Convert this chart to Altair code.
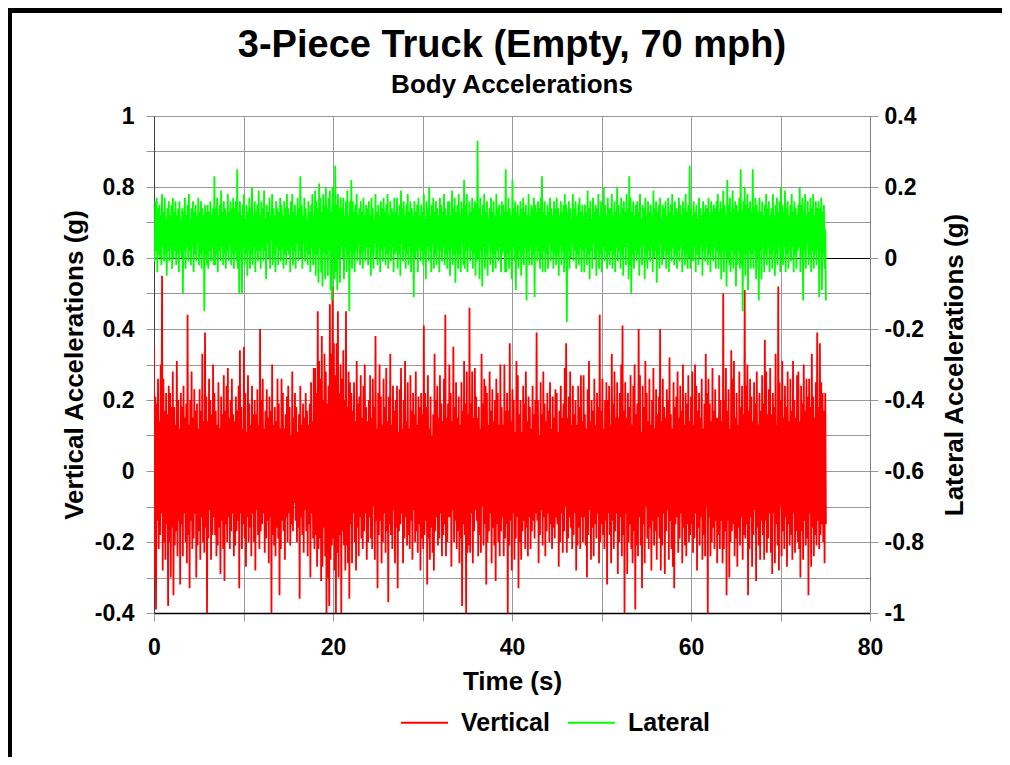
import altair as alt
import pandas as pd

# Sampling interval of the recorded signals (s)
DT = 0.075

# Vertical body acceleration, in hundredths of g (left axis); 3 s per line
vertical = [
    35, -30, 21, -39, 19, -14, 26, -22, 14, -18, 30, -12, 55, -28, 26, -20, 17, -25, 22, -15, 16, -38, 24, -20, 22, -30, 18, -16, 28, -35, 18, -21, 13, -17, 31, -24, 20, -14, 12, -32,
    22, -15, 18, -24, 24, -12, 15, -20, 19, -26, 44, -18, 13, -33, 20, -14, 28, -22, 15, -19, 23, -12, 17, -30, 19, -21, 12, -17, 23, -25, 17, -13, 33, -20, 14, -23, 39, -16, 21, -40,
    14, -19, 26, -11, 20, -25, 16, -18, 30, -13, 22, -18, 17, -24, 13, -21, 25, -16, 12, -29, 21, -14, 16, -22, 27, -31, 17, -15, 24, -20, 29, -13, 15, -22, 20, -17, 26, -12, 16, -24,
    14, -21, 21, -17, 17, -14, 24, -33, 34, -12, 18, -22, 12, -15, 35, -19, 22, -27, 11, -13, 27, -20, 19, -16, 13, -24, 24, -12, 16, -20, 20, -28, 16, -11, 23, -18, 13, -22, 40, -17,
    20, -15, 26, -12, 12, -23, 17, -19, 23, -14, 15, -26, 21, -13, 17, -40, 30, -18, 13, -21, 18, -24, 14, -16, 26, -19, 19, -35, 12, -22, 26, -14, 22, -17, 12, -25, 16, -13, 21, -20,
    24, -12, 18, -21, 10, -15, 28, -17, 15, -9, 22, -14, 18, -20, 11, -16, 16, -36, 24, -13, 13, -18, 19, -23, 15, -11, 22, -17, 17, -24, 13, -15, 19, -30, 25, -12, 14, -19, 29, -22,
    29, -18, 22, -27, 45, -22, 31, -19, 26, -31, 38, -27, 20, -16, 33, -24, 28, -40, 19, -30, 24, -38, 47, -25, 33, -21, 52, -19, 36, -28, 27, -40, 36, -23, 45, -30, 22, -18, 30, -40,
    26, -17, 34, -21, 20, -28, 45, -21, 18, -26, 28, -36, 25, -15, 22, -26, 17, -12, 25, -20, 14, -28, 31, -16, 19, -24, 21, -13, 27, -19, 15, -22, 24, -17, 30, -12, 18, -25, 14, -20,
    20, -13, 27, -19, 15, -22, 26, -10, 18, -25, 38, -14, 12, -33, 22, -18, 30, -14, 21, -26, 13, -20, 26, -12, 18, -23, 29, -17, 14, -37, 21, -15, 33, -18, 13, -22, 24, -11, 17, -26,
    20, -16, 24, -33, 11, -17, 23, -15, 29, -12, 12, -26, 20, -19, 31, -13, 14, -21, 25, -18, 12, -22, 27, -14, 17, -25, 22, -11, 16, -20, 28, -17, 13, -23, 21, -15, 18, -28, 22, -19,
    16, -22, 41, -18, 22, -14, 18, -32, 27, -19, 12, -25, 21, -16, 10, -23, 16, -28, 33, -17, 20, -13, 24, -21, 15, -19, 27, -12, 19, -24, 14, -18, 26, -15, 44, -24, 15, -20, 19, -13,
    30, -13, 22, -27, 14, -11, 35, -20, 18, -14, 25, -22, 15, -17, 21, -26, 13, -19, 25, -38, 17, -15, 31, -18, 19, -40, 28, -23, 16, -21, 46, -23, 19, -12, 28, -26, 15, -17, 29, -11,
    21, -14, 15, -24, 18, -18, 12, -23, 33, -10, 19, -21, 26, -15, 24, -32, 22, -20, 13, -17, 28, -12, 17, -26, 23, -16, 14, -21, 20, -31, 26, -15, 22, -20, 13, -24, 30, -17, 18, -13,
    13, -24, 30, -19, 17, -15, 22, -40, 17, -21, 36, -14, 14, -28, 23, -12, 20, -25, 11, -19, 31, -13, 27, -33, 16, -20, 20, -25, 11, -17, 24, -14, 19, -22, 28, -16, 14, -24, 21, -13,
    18, -22, 12, -17, 24, -14, 16, -19, 20, -12, 39, -14, 20, -26, 10, -18, 25, -11, 16, -21, 28, -13, 19, -24, 14, -17, 22, -12, 17, -20, 25, -15, 12, -22, 21, -16, 15, -19, 23, -13,
    22, -15, 11, -27, 17, -20, 24, -12, 15, -23, 19, -17, 29, -10, 36, -23, 15, -19, 21, -13, 28, -16, 13, -22, 24, -18, 16, -12, 20, -28, 13, -21, 24, -16, 18, -22, 27, -13, 14, -20,
    27, -13, 16, -21, 12, -30, 23, -18, 31, -11, 14, -25, 20, -16, 17, -24, 26, -15, 13, -19, 22, -12, 18, -26, 44, -20, 17, -15, 26, -18, 12, -22, 20, -14, 25, -32, 20, -12, 24, -18,
    13, -26, 33, -14, 19, -22, 28, -17, 15, -12, 25, -29, 15, -20, 22, -13, 30, -24, 41, -18, 17, -40, 25, -12, 15, -29, 22, -20, 18, -15, 27, -22, 13, -26, 24, -17, 30, -39, 16, -21,
    19, -24, 40, -13, 27, -21, 11, -33, 24, -15, 18, -26, 31, -10, 22, -19, 14, -22, 26, -16, 13, -28, 20, -14, 29, -21, 12, -17, 23, -25, 16, -13, 21, -19, 40, -28, 14, -21, 26, -12,
    18, -29, 15, -17, 23, -11, 20, -25, 32, -14, 16, -22, 12, -27, 25, -33, 18, -15, 21, -13, 28, -23, 15, -19, 24, -12, 17, -26, 30, -16, 13, -21, 22, -24, 19, -15, 27, -20, 14, -18,
    21, -15, 28, -23, 13, -19, 30, -12, 24, -28, 17, -16, 22, -21, 15, -13, 26, -25, 12, -18, 19, -24, 33, -10, 22, -40, 26, -13, 19, -24, 14, -20, 29, -16, 17, -22, 23, -14, 15, -26,
    15, -18, 27, -22, 20, -14, 14, -26, 50, -22, 20, -17, 29, -35, 17, -14, 23, -30, 12, -20, 34, -17, 26, -15, 31, -24, 15, -19, 22, -27, 13, -16, 28, -21, 18, -13, 24, -25, 16, -18,
    51, -19, 24, -15, 30, -35, 17, -22, 26, -13, 21, -27, 14, -18, 25, -11, 19, -31, 28, -16, 13, -21, 22, -25, 17, -14, 27, -18, 19, -25, 37, -14, 28, -23, 16, -19, 23, -12, 29, -23,
    16, -29, 22, -12, 18, -26, 33, -15, 13, -21, 52, -28, 25, -10, 20, -24, 31, -17, 15, -22, 24, -13, 18, -27, 28, -15, 14, -21, 26, -18, 17, -25, 31, -12, 20, -23, 15, -17, 27, -20,
    28, -22, 14, -30, 24, -17, 19, -25, 30, -14, 17, -21, 26, -19, 21, -35, 26, -12, 18, -27, 33, -16, 21, -24, 15, -18, 25, -21, 39, -14, 18, -22, 36, -18, 25, -15, 22, -20, 17, -26,
    22, -15,
]

# Lateral body acceleration, in hundredths of g (right axis); 3 s per line
lateral = [
    6, -1, 16, 2, 17, -4, 14, 1, 15, 0, 12, -2, 18, 3, 13, -1, 17, 1, 11, -5, 14, 2, 16, -1, 12, 3, 15, -3, 17, 0, 13, 2, 16, -2, 12, 1, 14, -4, 16, 2,
    11, 0, 14, -10, 13, 2, 17, -3, 12, 3, 15, -1, 18, 2, 11, -2, 14, 3, 16, -4, 13, 1, 15, -1, 12, 4, 17, -2, 13, 1, 16, -3, 14, 2, 12, -15, 15, 1, 13, -2,
    15, -3, 13, 2, 16, -1, 12, 3, 14, -2, 23, -2, 14, 1, 17, -4, 12, 2, 15, -1, 19, 3, 13, -2, 16, 1, 14, -3, 12, 2, 18, -1, 13, 4, 16, -2, 14, 1, 17, -3,
    14, 2, 16, -1, 25, -3, 13, -10, 16, 2, 12, -10, 15, 3, 18, -2, 11, 1, 15, -5, 13, 2, 17, -3, 14, 1, 20, -2, 12, 3, 16, -4, 13, 2, 15, -1, 19, 2, 12, -3,
    16, 3, 14, -1, 19, 2, 11, -6, 15, 4, 13, 0, 17, -3, 12, 5, 18, -2, 14, 1, 12, -4, 16, 3, 14, -2, 13, 2, 17, -1, 15, 3, 12, -3, 16, 1, 14, -2, 18, 2,
    14, 1, 12, -4, 16, 3, 18, -2, 13, 2, 15, -3, 12, 4, 17, -1, 14, 2, 23, 0, 15, -3, 12, 4, 17, -1, 14, 2, 11, -2, 16, 1, 13, -4, 15, 3, 18, -2, 12, 1,
    19, -5, 16, 1, 14, -7, 21, 3, 17, -4, 13, -8, 18, 2, 15, -6, 20, 1, 14, -5, 17, 2, 19, -9, 13, -12, 20, 2, 15, -6, 26, -4, 15, -9, 18, 0, 14, -7, 17, 3,
    14, 0, 17, -6, 12, 3, 16, -4, 19, 1, 12, -15, 16, 2, 22, -3, 16, 1, 13, -4, 15, 2, 18, -1, 12, 4, 14, -2, 16, 1, 13, -3, 17, 2, 12, -1, 15, 3, 14, -2,
    16, 3, 12, -5, 17, 1, 14, -3, 11, 4, 18, 0, 13, -2, 15, 3, 12, -4, 16, 2, 14, -1, 17, 3, 13, -2, 15, 1, 18, -3, 12, 2, 16, -1, 14, 3, 13, -4, 17, 1,
    13, 2, 17, -3, 12, 1, 15, -5, 19, 4, 14, -1, 16, 2, 12, -3, 15, 1, 18, -2, 13, 3, 16, -4, 14, 2, 12, -11, 16, 0, 13, 2, 15, -4, 17, 3, 12, -1, 15, 2,
    13, -2, 18, 1, 11, -6, 16, 3, 14, -1, 20, 2, 12, -4, 15, 4, 17, -3, 13, 1, 16, -2, 14, 3, 12, -4, 17, 2, 15, -1, 13, 3, 18, -2, 14, 1, 12, -3, 16, 2,
    16, -5, 12, 3, 19, -2, 14, 1, 17, -7, 13, 2, 15, -3, 18, 1, 12, -4, 16, 4, 14, -2, 22, -3, 15, 2, 18, -4, 12, 3, 16, -1, 13, 2, 17, -3, 14, 1, 16, -5,
    15, -1, 33, 0, 14, -6, 17, 2, 12, -8, 15, 3, 18, -3, 13, 1, 16, -5, 11, 4, 14, -2, 17, 2, 13, -4, 16, 1, 12, -3, 18, 2, 14, -1, 15, 3, 12, -4, 16, 1,
    15, 2, 13, -4, 25, -4, 13, 1, 17, -3, 14, 2, 12, -6, 22, 3, 14, -1, 16, -9, 13, 0, 15, -3, 12, 2, 16, -5, 14, 1, 17, -2, 13, 3, 15, -12, 12, 2, 18, -2,
    12, 3, 15, -2, 14, 1, 17, -11, 15, 3, 13, -1, 16, 2, 14, -3, 17, 0, 23, -4, 13, 2, 16, -4, 12, 1, 15, -3, 13, 4, 17, -1, 14, 2, 12, -3, 16, 1, 14, -2,
    17, 1, 14, -5, 12, 3, 16, -2, 13, 2, 15, -4, 18, 1, 15, -18, 13, 2, 16, -3, 14, 0, 11, 4, 18, -1, 14, 2, 16, -3, 12, 1, 15, -2, 17, 3, 13, -4, 15, 2,
    12, -4, 15, 3, 13, -2, 19, 1, 14, -6, 16, 2, 11, -3, 17, 4, 13, 0, 15, -5, 14, 2, 18, -3, 12, 1, 16, -4, 13, 3, 20, -1, 15, 2, 12, -3, 17, 1, 14, -2,
    14, 2, 18, -3, 12, 1, 16, -4, 13, 3, 20, -1, 15, 2, 12, -3, 17, 1, 14, -5, 16, 3, 13, -2, 18, 4, 14, -6, 23, -2, 17, -10, 13, 1, 16, -3, 12, 2, 15, -1,
    16, 1, 13, -5, 18, 3, 11, -2, 15, 4, 14, -6, 17, 1, 12, -3, 16, 2, 13, -1, 15, 3, 12, -4, 19, 0, 14, 2, 16, -7, 13, 1, 15, -3, 17, 4, 11, -2, 15, 0,
    14, 2, 16, -3, 12, 1, 17, -4, 13, 2, 15, -1, 18, 3, 12, -2, 16, 1, 14, -3, 13, 2, 17, -1, 15, 3, 12, -4, 16, 2, 14, -2, 18, 1, 13, -3, 15, 0, 26, -3,
    14, 2, 12, -1, 16, 3, 13, -4, 15, 1, 11, -2, 17, 0, 14, 3, 12, -5, 16, 2, 13, -1, 15, 3, 14, -2, 17, 1, 12, -4, 16, 2, 13, -1, 15, 3, 14, -3, 16, 2,
    18, -3, 13, 1, 16, -6, 14, 2, 19, -4, 15, 2, 12, -8, 22, 0, 15, -2, 17, -4, 13, 2, 19, -3, 14, 1, 16, -8, 15, -2, 13, 2, 17, -3, 25, -2, 13, -15, 16, 1,
    20, -5, 15, 1, 18, -9, 14, 2, 16, -3, 13, 1, 25, -3, 14, 2, 17, -6, 15, 0, 13, -12, 17, 2, 13, -6, 16, 3, 12, -4, 15, 1, 18, -2, 14, 3, 16, -4, 12, 1,
    14, -3, 18, 2, 12, -5, 15, 1, 17, -2, 13, 3, 16, -4, 20, 0, 15, -2, 13, 3, 19, -4, 14, 1, 16, -3, 12, 2, 15, -1, 18, 3, 13, -4, 16, 1, 14, -3, 12, 2,
    15, 3, 20, -4, 15, 1, 17, -12, 13, 2, 18, -3, 12, 4, 16, -2, 13, 1, 17, -4, 14, 2, 18, -3, 12, 1, 16, -2, 14, 3, 16, -11, 14, 2, 17, -9, 13, 1, 15, -3,
    8, -12,
]

series_names = ["Vertical", "Lateral"]
series_colors = ["#FF0000", "#00FF00"]

x_ticks = [0, 10, 20, 30, 40, 50, 60, 70, 80]
left_ticks = [-0.4, -0.3, -0.2, -0.1, 0, 0.1, 0.2, 0.3, 0.4, 0.5, 0.6, 0.7, 0.8, 0.9, 1]
right_ticks = [-1, -0.8, -0.6, -0.4, -0.2, 0, 0.2, 0.4]

df_v = pd.DataFrame({
    "t": [round(i * DT, 3) for i in range(len(vertical))],
    "g": [v / 100 for v in vertical],
    "series": "Vertical",
})
df_l = pd.DataFrame({
    "t": [round(i * DT, 3) for i in range(len(lateral))],
    "g": [v / 100 for v in lateral],
    "series": "Lateral",
})

FONT = "Liberation Sans"
GRID = "#999999"
LW = 1.8

color = alt.Color(
    "series:N",
    scale=alt.Scale(domain=series_names, range=series_colors),
    legend=alt.Legend(
        title=None, orient="none", legendX=246, legendY=582, direction="horizontal",
        symbolType="stroke", symbolSize=2200, symbolStrokeWidth=2,
        labelFont=FONT, labelFontSize=25, labelFontWeight="bold", labelColor="black",
        labelOffset=12, columnPadding=14, labelLimit=0,
    ),
)

x_enc = alt.X(
    "t:Q",
    scale=alt.Scale(domain=[0, 80], nice=False),
    axis=alt.Axis(
        values=x_ticks, title="Time (s)",
        labelExpr="datum.value % 20 === 0 ? datum.label : ''",
        labelFlush=False,
        grid=True, gridColor=GRID, tickColor=GRID, tickSize=8,
        domainColor="black", domainWidth=1.5, labelPadding=15, titlePadding=9,
    ),
)

vert = alt.Chart(df_v).mark_line(strokeWidth=LW, clip=True).encode(
    x=x_enc,
    y=alt.Y(
        "g:Q",
        scale=alt.Scale(domain=[-0.4, 1], nice=False, zero=False),
        axis=alt.Axis(
            values=left_ticks, title="Vertical Accelerations (g)", orient="left",
            labelExpr="abs(round(datum.value*10)) % 2 === 0 ? '' + datum.value : ''",
            grid=True,
            gridColor={"condition": {"test": "abs(datum.value - 0.6) < 0.001", "value": "#000000"}, "value": GRID},
            tickColor=GRID, tickSize=8, domainColor="#404040",
            labelPadding=12, titlePadding=7,
        ),
    ),
    color=color,
)

lat = alt.Chart(df_l).mark_line(strokeWidth=LW, clip=True).encode(
    x=alt.X("t:Q", scale=alt.Scale(domain=[0, 80], nice=False)),
    y=alt.Y(
        "g:Q",
        scale=alt.Scale(domain=[-1, 0.4], nice=False, zero=False),
        axis=alt.Axis(
            values=right_ticks, title="Lateral Accelerations (g)", orient="right",
            labelExpr="'' + datum.value", grid=False, titleAngle=270,
            tickColor=GRID, tickSize=8, domainColor="#808080",
            labelPadding=6, titlePadding=44,
        ),
    ),
    color=color,
)

frame_df = pd.DataFrame({"k": [0]})
left_border = alt.Chart(frame_df).mark_rule(color="black", strokeWidth=4).encode(
    x=alt.value(-144), y=alt.value(-108), y2=alt.value(641)
)
top_border = alt.Chart(frame_df).mark_rule(color="black", strokeWidth=5).encode(
    x=alt.value(-146), x2=alt.value(848), y=alt.value(-105.5)
)

chart = (
    alt.layer(vert, lat, left_border, top_border)
    .resolve_scale(y="independent")
    .properties(
        width=716, height=497,
        padding={"left": 146, "top": 108, "right": 132, "bottom": 144},
        autosize=alt.AutoSizeParams(type="none"),
        background="white",
        title=alt.TitleParams(
            text="3-Piece Truck (Empty, 70 mph)", subtitle="Body Accelerations",
            font=FONT, fontSize=38, fontWeight="bold", color="black",
            subtitleFont=FONT, subtitleFontSize=26, subtitleFontWeight="bold",
            subtitleColor="black", anchor="middle", frame="group",
            offset=-92, subtitlePadding=7,
        ),
    )
    .configure_view(strokeWidth=0)
    .configure_axis(
        labelFont=FONT, labelFontSize=23, labelFontWeight="bold", labelColor="black",
        titleFont=FONT, titleFontSize=26, titleFontWeight="bold", titleColor="black",
    )
)

chart.save("out.html", embed_options={"renderer": "svg", "actions": False})
